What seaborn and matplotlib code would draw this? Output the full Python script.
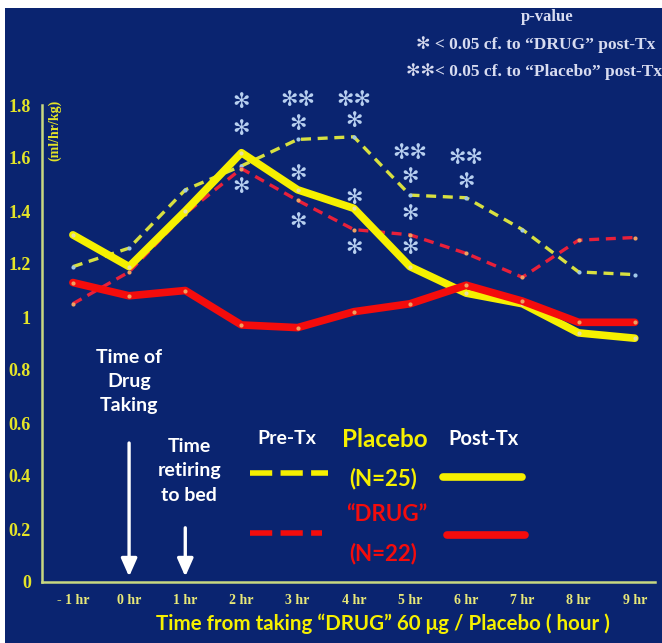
import numpy as np
import pandas as pd
import matplotlib.pyplot as plt
import seaborn as sns
from matplotlib.patches import Rectangle
from matplotlib.lines import Line2D

# data
hours = [-1, 0, 1, 2, 3, 4, 5, 6, 7, 8, 9]
xtick_labels = ["- 1 hr", "0 hr", "1 hr", "2 hr", "3 hr", "4 hr", "5 hr", "6 hr", "7 hr", "8 hr", "9 hr"]
yticks = [0, 0.2, 0.4, 0.6, 0.8, 1.0, 1.2, 1.4, 1.6, 1.8]
ytick_labels = ["0", "0.2", "0.4", "0.6", "0.8", "1", "1.2", "1.4", "1.6", "1.8"]

placebo_pre = [1.19, 1.26, 1.48, 1.57, 1.67, 1.68, 1.46, 1.45, 1.33, 1.17, 1.16]
placebo_post = [1.31, 1.19, 1.40, 1.62, 1.48, 1.41, 1.19, 1.09, 1.05, 0.94, 0.92]
drug_pre = [1.05, 1.17, 1.39, 1.56, 1.44, 1.33, 1.31, 1.24, 1.15, 1.29, 1.30]
drug_post = [1.13, 1.08, 1.10, 0.97, 0.96, 1.02, 1.05, 1.12, 1.06, 0.98, 0.98]

# significance asterisks: hour, level, label
star_hours = [2, 2, 2, 3, 3, 3, 3, 4, 4, 4, 4, 5, 5, 5, 5, 6, 6]
star_levels = [1.81, 1.71, 1.49, 1.82, 1.73, 1.54, 1.36, 1.82, 1.74, 1.45, 1.26,
               1.62, 1.53, 1.39, 1.26, 1.60, 1.51]
star_marks = ["✻", "✻", "✻", "✻✻", "✻", "✻", "✻", "✻✻", "✻", "✻", "✻",
              "✻✻", "✻", "✻", "✻", "✻✻", "✻"]

BG = "#0a2470"
YEL = "#f6f000"
YEL_D = "#d8e040"
RED = "#f40c0c"
RED_D = "#e8203a"
STAR = "#b8d0f0"
TICKY = "#e4e428"

sns.set_theme(style="white")
plt.rcParams["font.family"] = ["Liberation Serif", "DejaVu Sans"]

fig = plt.figure(figsize=(6.62, 6.43), dpi=100)
fig.patch.set_facecolor("white")
fig.patches.append(Rectangle((5 / 662, 0), 1, (643 - 8) / 643, transform=fig.transFigure,
                             facecolor=BG, edgecolor="none", zorder=-10))
ax = fig.add_axes([42 / 662, 61 / 643, 613 / 662, 477 / 643])
ax.set_zorder(2)
ax.set_facecolor("none")

df = pd.DataFrame({"hour": hours, "placebo_pre": placebo_pre, "placebo_post": placebo_post,
                   "drug_pre": drug_pre, "drug_post": drug_post})

sns.lineplot(data=df, x="hour", y="placebo_pre", ax=ax, color=YEL_D, lw=2.4,
             linestyle=(0, (3, 2)), marker="o", ms=3, mfc="#a0c8e8", mec="none", zorder=3)
sns.lineplot(data=df, x="hour", y="drug_pre", ax=ax, color=RED_D, lw=2.4,
             linestyle=(0, (3, 2)), marker="o", ms=3, mfc="#f0a060", mec="none", zorder=3)
sns.lineplot(data=df, x="hour", y="placebo_post", ax=ax, color=YEL, lw=5.5,
             marker="o", ms=3, mfc="#e8e0a0", mec="none", zorder=4)
sns.lineplot(data=df, x="hour", y="drug_post", ax=ax, color=RED, lw=5.5,
             marker="o", ms=3, mfc="#f0a060", mec="none", zorder=5)

for h, lv, m in zip(star_hours, star_levels, star_marks):
    ax.text(h, lv, m, color=STAR, fontsize=15, ha="center", va="center",
            family="DejaVu Sans", zorder=6)

ax.set_xlim(-1.55, 9.36)
ax.set_ylim(0, 1.8)
ax.set_xticks(hours)
ax.set_xticklabels(xtick_labels, color="#e8e878", fontsize=10, fontweight="bold")
ax.set_yticks(yticks)
ax.set_yticklabels(ytick_labels, color=TICKY, fontsize=13, fontweight="bold")
ax.tick_params(axis="x", length=0, pad=9)
ax.tick_params(axis="y", length=0, pad=8)
for s in ["top", "right"]:
    ax.spines[s].set_visible(False)
for s in ["left", "bottom"]:
    ax.spines[s].set_color("#c8d880")
    ax.spines[s].set_linewidth(1.8)
ax.set_xlabel("Time from taking “DRUG” 60 μg / Placebo ( hour )", color=YEL,
              fontsize=14.8, fontweight="bold", family="Lato")
ax.xaxis.set_label_coords(0.556, -0.066)
ax.set_ylabel("")
ax.text(0.021, 1.705, "(ml/hr/kg)", transform=ax.get_yaxis_transform(), rotation=90,
        color=TICKY, fontsize=10, fontweight="bold", ha="center", va="center")

# p-value key
fig.text(0.827, 0.974, "p-value", color="#d8dcf0", fontsize=12, fontweight="bold",
         ha="center", va="center")
fig.text(0.809, 0.930, "✻ < 0.05 cf. to “DRUG” post-Tx", color="#d8dcf0", fontsize=12.5,
         fontweight="bold", ha="center", va="center")
fig.text(0.807, 0.888, "✻✻< 0.05 cf. to “Placebo” post-Tx", color="#d8dcf0", fontsize=12.5,
         fontweight="bold", ha="center", va="center")

# time annotations
ax.text(0, 0.755, "Time of\nDrug\nTaking", color="white", fontsize=14, fontweight="bold",
        family="Lato", ha="center", va="center", linespacing=1.5)
ax.annotate("", xy=(0, 0.01), xytext=(0, 0.535),
            arrowprops=dict(arrowstyle="-|>,head_width=0.4,head_length=0.9", color="white", lw=2.4))
ax.text(1.07, 0.42, "Time\nretiring\nto bed", color="white", fontsize=14, fontweight="bold",
        family="Lato", ha="center", va="center", linespacing=1.55)
ax.annotate("", xy=(1, 0.01), xytext=(1, 0.215),
            arrowprops=dict(arrowstyle="-|>,head_width=0.4,head_length=0.9", color="white", lw=2.4))

# group key
ax.text(2.81, 0.543, "Pre-Tx", color="white", fontsize=14, fontweight="bold", family="Lato",
        ha="center", va="center")
ax.text(4.55, 0.536, "Placebo", color=YEL, fontsize=17.5, fontweight="bold", family="Lato",
        ha="center", va="center")
ax.text(6.3, 0.538, "Post-Tx", color="white", fontsize=14.5, fontweight="bold", family="Lato",
        ha="center", va="center")
ax.text(4.53, 0.392, "(N=25)", color=YEL, fontsize=16, fontweight="bold", family="Lato",
        ha="center", va="center")
ax.text(4.59, 0.253, "“DRUG”", color=RED, fontsize=16, fontweight="bold", family="Lato",
        ha="center", va="center")
ax.text(4.53, 0.109, "(N=22)", color=RED, fontsize=16, fontweight="bold", family="Lato",
        ha="center", va="center")
ax.add_line(Line2D([2.15, 3.54], [0.411, 0.411], color=YEL, lw=4, linestyle=(0, (4, 1.5))))
ax.add_line(Line2D([5.58, 7.0], [0.396, 0.396], color=YEL, lw=5.5))
ax.add_line(Line2D([2.15, 3.43], [0.185, 0.185], color=RED, lw=4, linestyle=(0, (4, 1.5))))
ax.add_line(Line2D([5.65, 7.04], [0.177, 0.177], color=RED, lw=5.5))

fig.savefig("out.png", dpi=100, facecolor=fig.get_facecolor())
